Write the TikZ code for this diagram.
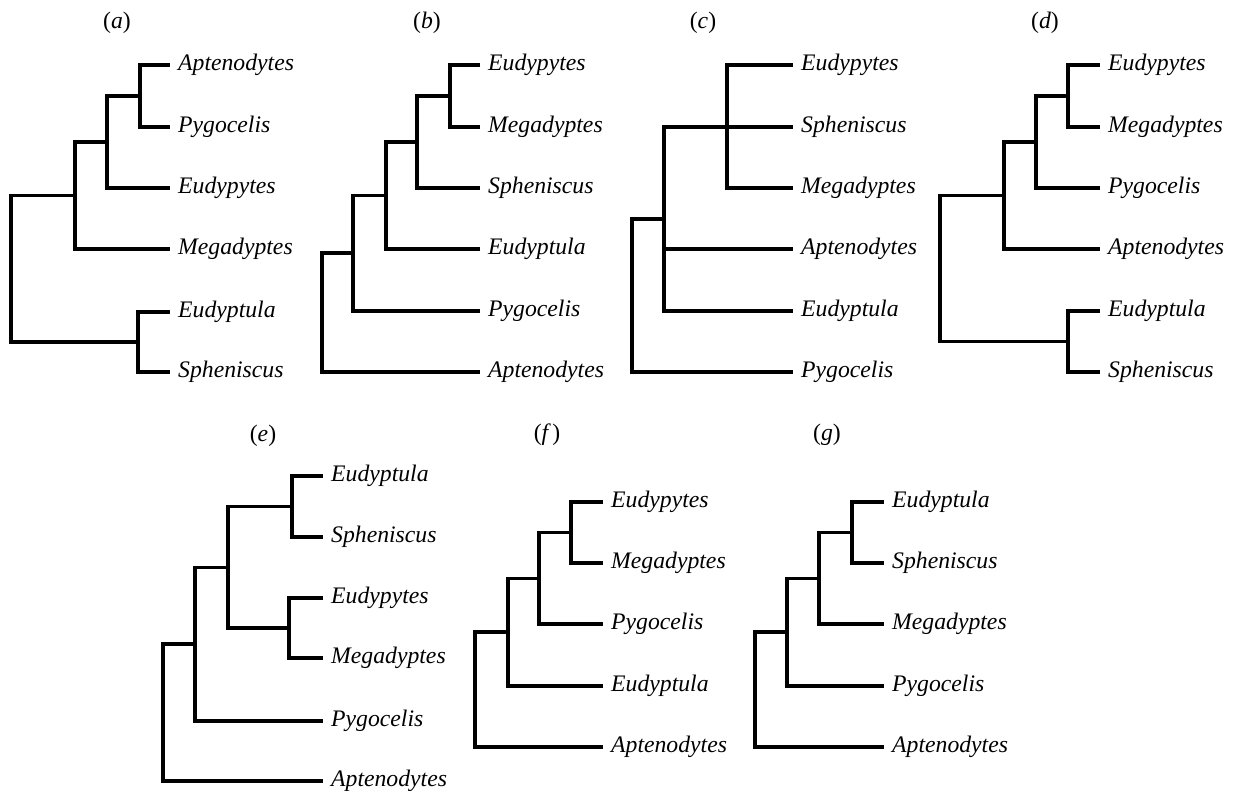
\documentclass[tikz,border=0pt]{standalone}
\usepackage{fontspec}
\setmainfont{Liberation Serif}
\tikzset{
	branch/.style={line width=3.1pt},
	leaf/.style={anchor=west, inner xsep=8pt, inner ysep=0pt, text height=16pt, text depth=5pt,
		font=\fontsize{23.7}{28}\selectfont\itshape},
	panel/.style={inner sep=0pt, font=\fontsize{23.7}{28}\selectfont}
}
\begin{document}
\begin{tikzpicture}[x=1pt, y=-1pt]
	\useasboundingbox (0,0) rectangle (1234,791);
	% (a)
	\node[panel] (la) at (117,23) {(\textit{a})};
	\node[leaf] (aApt) at (170,65) {Aptenodytes};
	\node[leaf] (aPyg) at (170,127) {Pygocelis};
	\node[leaf] (aEudy) at (170,188) {Eudypytes};
	\node[leaf] (aMeg) at (170,249) {Megadyptes};
	\node[leaf] (aEudt) at (170,312) {Eudyptula};
	\node[leaf] (aSph) at (170,372) {Spheniscus};
	\coordinate (a4) at (140,96);
	\coordinate (a3) at (107,142);
	\coordinate (a2) at (75,195.5);
	\coordinate (a5) at (138,342);
	\coordinate (a1) at (11,268.5);
	\draw[branch] (a4) |- (aApt);
	\draw[branch] (a4) |- (aPyg);
	\draw[branch] (a3) |- (a4);
	\draw[branch] (a3) |- (aEudy);
	\draw[branch] (a2) |- (a3);
	\draw[branch] (a2) |- (aMeg);
	\draw[branch] (a5) |- (aEudt);
	\draw[branch] (a5) |- (aSph);
	\draw[branch] (a1) |- (a2);
	\draw[branch] (a1) |- (a5);
	% (b)
	\node[panel] (lb) at (427,23) {(\textit{b})};
	\node[leaf] (bEudy) at (480,65) {Eudypytes};
	\node[leaf] (bMeg) at (480,127) {Megadyptes};
	\node[leaf] (bSph) at (480,188) {Spheniscus};
	\node[leaf] (bEudt) at (480,249) {Eudyptula};
	\node[leaf] (bPyg) at (480,311) {Pygocelis};
	\node[leaf] (bApt) at (480,372) {Aptenodytes};
	\coordinate (b5) at (450,96);
	\coordinate (b4) at (417,142);
	\coordinate (b3) at (386,195.5);
	\coordinate (b2) at (353,253);
	\coordinate (b1) at (322,312.5);
	\draw[branch] (b5) |- (bEudy);
	\draw[branch] (b5) |- (bMeg);
	\draw[branch] (b4) |- (b5);
	\draw[branch] (b4) |- (bSph);
	\draw[branch] (b3) |- (b4);
	\draw[branch] (b3) |- (bEudt);
	\draw[branch] (b2) |- (b3);
	\draw[branch] (b2) |- (bPyg);
	\draw[branch] (b1) |- (b2);
	\draw[branch] (b1) |- (bApt);
	% (c)
	\node[panel] (lc) at (703,23) {(\textit{c})};
	\node[leaf] (cEudy) at (793,65) {Eudypytes};
	\node[leaf] (cSph) at (793,127) {Spheniscus};
	\node[leaf] (cMeg) at (793,188) {Megadyptes};
	\node[leaf] (cApt) at (793,249) {Aptenodytes};
	\node[leaf] (cEudt) at (793,311) {Eudyptula};
	\node[leaf] (cPyg) at (793,372) {Pygocelis};
	\coordinate (c3) at (727,127);
	\coordinate (c2) at (664,219);
	\coordinate (c1) at (632,295.5);
	\draw[branch] (c3) |- (cEudy);
	\draw[branch] (c3) |- (cMeg);
	\draw[branch] (c2) |- (cSph);
	\draw[branch] (c2) |- (cApt);
	\draw[branch] (c2) |- (cEudt);
	\draw[branch] (c1) |- (c2);
	\draw[branch] (c1) |- (cPyg);
	% (d)
	\node[panel] (ld) at (1045,23) {(\textit{d})};
	\node[leaf] (dEudy) at (1100,65) {Eudypytes};
	\node[leaf] (dMeg) at (1100,127) {Megadyptes};
	\node[leaf] (dPyg) at (1100,188) {Pygocelis};
	\node[leaf] (dApt) at (1100,249) {Aptenodytes};
	\node[leaf] (dEudt) at (1100,311) {Eudyptula};
	\node[leaf] (dSph) at (1100,372) {Spheniscus};
	\coordinate (d4) at (1068,96);
	\coordinate (d3) at (1036,142);
	\coordinate (d2) at (1004,195.5);
	\coordinate (d5) at (1068,341.5);
	\coordinate (d1) at (940,268.5);
	\draw[branch] (d4) |- (dEudy);
	\draw[branch] (d4) |- (dMeg);
	\draw[branch] (d3) |- (d4);
	\draw[branch] (d3) |- (dPyg);
	\draw[branch] (d2) |- (d3);
	\draw[branch] (d2) |- (dApt);
	\draw[branch] (d5) |- (dEudt);
	\draw[branch] (d5) |- (dSph);
	\draw[branch] (d1) |- (d2);
	\draw[branch] (d1) |- (d5);
	% (e)
	\node[panel] (le) at (263,436) {(\textit{e})};
	\node[leaf] (eEudt) at (323,476) {Eudyptula};
	\node[leaf] (eSph) at (323,537) {Spheniscus};
	\node[leaf] (eEudy) at (323,598) {Eudypytes};
	\node[leaf] (eMeg) at (323,658) {Megadyptes};
	\node[leaf] (ePyg) at (323,721) {Pygocelis};
	\node[leaf] (eApt) at (323,781) {Aptenodytes};
	\coordinate (e4) at (292,506.5);
	\coordinate (e5) at (289,628);
	\coordinate (e3) at (228,567.5);
	\coordinate (e2) at (195,644);
	\coordinate (e1) at (163,712.5);
	\draw[branch] (e4) |- (eEudt);
	\draw[branch] (e4) |- (eSph);
	\draw[branch] (e5) |- (eEudy);
	\draw[branch] (e5) |- (eMeg);
	\draw[branch] (e3) |- (e4);
	\draw[branch] (e3) |- (e5);
	\draw[branch] (e2) |- (e3);
	\draw[branch] (e2) |- (ePyg);
	\draw[branch] (e1) |- (e2);
	\draw[branch] (e1) |- (eApt);
	% (f)
	\node[panel] (lf) at (547,435) {(\textit{f\,})};
	\node[leaf] (fEudy) at (603,502) {Eudypytes};
	\node[leaf] (fMeg) at (603,563) {Megadyptes};
	\node[leaf] (fPyg) at (603,624) {Pygocelis};
	\node[leaf] (fEudt) at (603,686) {Eudyptula};
	\node[leaf] (fApt) at (603,747) {Aptenodytes};
	\coordinate (f4) at (571,532.5);
	\coordinate (f3) at (539,578.5);
	\coordinate (f2) at (508,632);
	\coordinate (f1) at (475,689.5);
	\draw[branch] (f4) |- (fEudy);
	\draw[branch] (f4) |- (fMeg);
	\draw[branch] (f3) |- (f4);
	\draw[branch] (f3) |- (fPyg);
	\draw[branch] (f2) |- (f3);
	\draw[branch] (f2) |- (fEudt);
	\draw[branch] (f1) |- (f2);
	\draw[branch] (f1) |- (fApt);
	% (g)
	\node[panel] (lg) at (827,435) {(\textit{g})};
	\node[leaf] (gEudt) at (884,502) {Eudyptula};
	\node[leaf] (gSph) at (884,563) {Spheniscus};
	\node[leaf] (gMeg) at (884,624) {Megadyptes};
	\node[leaf] (gPyg) at (884,686) {Pygocelis};
	\node[leaf] (gApt) at (884,747) {Aptenodytes};
	\coordinate (g4) at (852,532.5);
	\coordinate (g3) at (819,578.5);
	\coordinate (g2) at (787,632);
	\coordinate (g1) at (755,689.5);
	\draw[branch] (g4) |- (gEudt);
	\draw[branch] (g4) |- (gSph);
	\draw[branch] (g3) |- (g4);
	\draw[branch] (g3) |- (gMeg);
	\draw[branch] (g2) |- (g3);
	\draw[branch] (g2) |- (gPyg);
	\draw[branch] (g1) |- (g2);
	\draw[branch] (g1) |- (gApt);
\end{tikzpicture}
\end{document}
